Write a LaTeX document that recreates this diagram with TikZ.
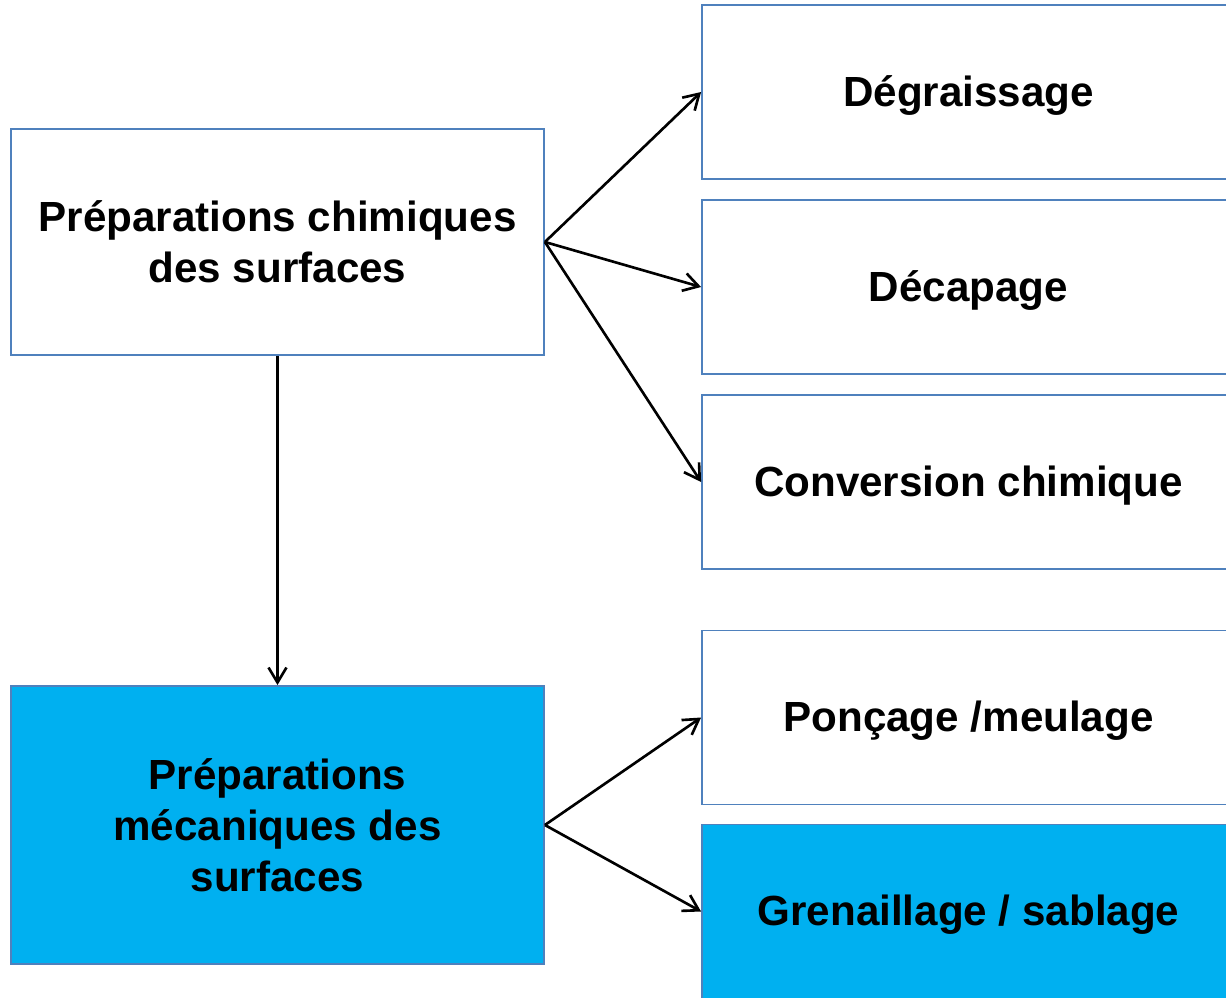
\documentclass[tikz,border=0pt]{standalone}
\usepackage{fontspec}
\setmainfont{Liberation Sans}
\usepackage{tikz}
\usetikzlibrary{positioning}
\usetikzlibrary{shapes,arrows,calc,arrows.meta}

\definecolor{boxline}{HTML}{4F81BD}
\definecolor{boxcyan}{HTML}{00B0F0}

\tikzset{
    box/.style={draw=boxline, line width=1.1pt, fill=white,
        font=\fontsize{24}{29}\selectfont\bfseries,
        minimum width=10.66cm, inner sep=0pt},
    leftbox/.style={box, align=center, minimum height=4.52cm},
    rightbox/.style={box, minimum height=3.48cm, text height=21pt, text depth=5pt},
    flow/.style={line width=1.5pt, -{Straight Barb[length=0.3cm,width=0.36cm]}}
}

\begin{document}
\begin{tikzpicture}[x=0.02cm, y=-0.02cm]
    \clip (0,0) rectangle (1226,997); % Frame of the picture
    \useasboundingbox (0,0) rectangle (1226,997);

    % Left column
    \node[leftbox] (chem) at (277.5,242) {Préparations chimiques\\des surfaces};
    \node[leftbox, fill=boxcyan, minimum height=5.56cm] (meca) at (277.5,825)
        {Préparations\\mécaniques des\\surfaces};

    % Right column
    \node[rightbox] (degr) at (968.5,92) {Dégraissage};
    \node[rightbox] (deca) at (968.5,287) {Décapage};
    \node[rightbox] (conv) at (968.5,482) {Conversion chimique};
    \node[rightbox] (ponc) at (968.5,717.5) {Ponçage /meulage};
    \node[rightbox, fill=boxcyan] (gren) at (968.5,911.5) {Grenaillage / sablage};

    % Connectors
    \foreach \t in {degr,deca,conv}{
        \draw[flow] (chem.east) -- (\t.west);
    }
    \draw[flow] (chem.south) -- (meca.north);
    \foreach \t in {ponc,gren}{
        \draw[flow] (meca.east) -- (\t.west);
    }
\end{tikzpicture}
\end{document}
